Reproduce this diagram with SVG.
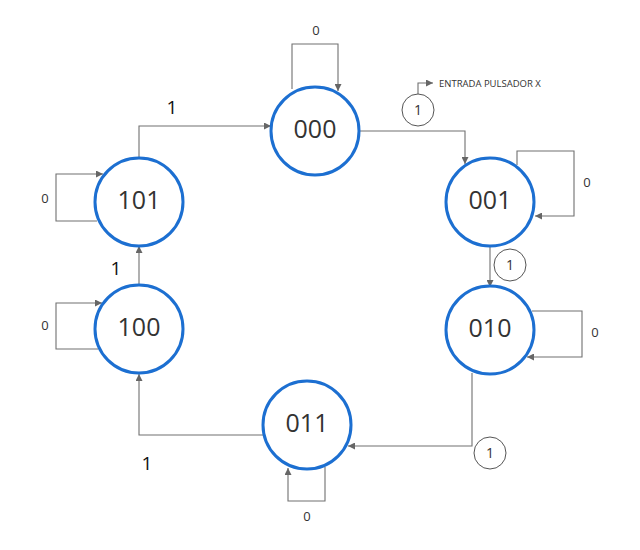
<svg xmlns="http://www.w3.org/2000/svg" width="640" height="550" viewBox="0 0 640 550">
  <style>
    .state circle { fill: #ffffff; stroke: #1c6fd1; stroke-width: 3; }
    .state text { font-family: "Open Sans", "Liberation Sans", sans-serif; font-size: 25px; fill: #333333; text-anchor: middle; }
    .wire { fill: none; stroke: #707070; stroke-width: 1.1; }
    .lbl { font-family: "Open Sans", "Liberation Sans", sans-serif; font-size: 13px; fill: #333333; text-anchor: middle; }
    .mark text { font-family: "Open Sans", "Liberation Sans", sans-serif; font-size: 14px; fill: #333333; text-anchor: middle; }
    .big { font-family: "Open Sans", "Liberation Sans", sans-serif; font-size: 19px; fill: #111111; text-anchor: middle; }
    .mark circle { fill: #ffffff; stroke: #555555; stroke-width: 1; }
    .mark text.note { font-size: 9.5px; text-anchor: start; }
  </style>
  <defs>
    <marker id="arr" viewBox="0 0 10 10" refX="10" refY="5" markerWidth="7" markerHeight="7" markerUnits="userSpaceOnUse" orient="auto">
      <path d="M0,0 L10,5 L0,10 z" fill="#666666"/>
    </marker>
  </defs>
  <rect width="640" height="550" fill="#ffffff"/>

  <!-- connectors -->
  <g id="connectors">
    <!-- self loops -->
    <path class="wire" d="M292,89 V44 H338 V91" marker-end="url(#arr)"/>
    <path class="wire" d="M517,165 V151 H574 V216 H535" marker-end="url(#arr)"/>
    <path class="wire" d="M532,311 H582 V357 H527" marker-end="url(#arr)"/>
    <path class="wire" d="M325,467 V501 H288 V468" marker-end="url(#arr)"/>
    <path class="wire" d="M98,349 H56 V303 H102" marker-end="url(#arr)"/>
    <path class="wire" d="M97,221 H56 V174 H103" marker-end="url(#arr)"/>
    <!-- transitions -->
    <path class="wire" d="M359,131 H465 V164" marker-end="url(#arr)"/>
    <path class="wire" d="M490,247 V287" marker-end="url(#arr)"/>
    <path class="wire" d="M472,373 V446 H348" marker-end="url(#arr)"/>
    <path class="wire" d="M263,435 H139 V374" marker-end="url(#arr)"/>
    <path class="wire" d="M139,285 V246" marker-end="url(#arr)"/>
    <path class="wire" d="M139,158 V126 H271" marker-end="url(#arr)"/>
    <!-- input pointer -->
    <path class="wire" d="M418,94 V83 H433" marker-end="url(#arr)"/>
  </g>

  <!-- input markers -->
  <g id="mark-input" class="mark">
    <circle cx="418" cy="110" r="16"/>
    <text x="418" y="115">1</text>
    <text class="note" x="439" y="86.5">ENTRADA PULSADOR X</text>
  </g>
  <g id="mark-001" class="mark">
    <circle cx="510" cy="265" r="16"/>
    <text x="510" y="270">1</text>
  </g>
  <g id="mark-010" class="mark">
    <circle cx="490" cy="453" r="16"/>
    <text x="490" y="458">1</text>
  </g>

  <!-- loop and transition labels -->
  <g id="labels">
    <text class="lbl" x="316" y="35">0</text>
    <text class="lbl" x="587" y="187">0</text>
    <text class="lbl" x="595" y="337">0</text>
    <text class="lbl" x="307" y="521">0</text>
    <text class="lbl" x="45" y="330">0</text>
    <text class="lbl" x="45" y="203">0</text>
    <text class="big" x="172" y="114">1</text>
    <text class="big" x="116" y="275">1</text>
    <text class="big" x="147" y="470">1</text>
  </g>

  <!-- states -->
  <g id="s000" class="state">
    <circle cx="315" cy="131" r="44"/>
    <text x="315" y="138">000</text>
  </g>
  <g id="s001" class="state">
    <circle cx="490" cy="202" r="44"/>
    <text x="490" y="209">001</text>
  </g>
  <g id="s010" class="state">
    <circle cx="490" cy="330" r="44"/>
    <text x="490" y="337">010</text>
  </g>
  <g id="s011" class="state">
    <circle cx="307" cy="425" r="44"/>
    <text x="307" y="432">011</text>
  </g>
  <g id="s100" class="state">
    <circle cx="139" cy="329" r="44"/>
    <text x="139" y="336">100</text>
  </g>
  <g id="s101" class="state">
    <circle cx="139" cy="202" r="44"/>
    <text x="139" y="209">101</text>
  </g>
</svg>
